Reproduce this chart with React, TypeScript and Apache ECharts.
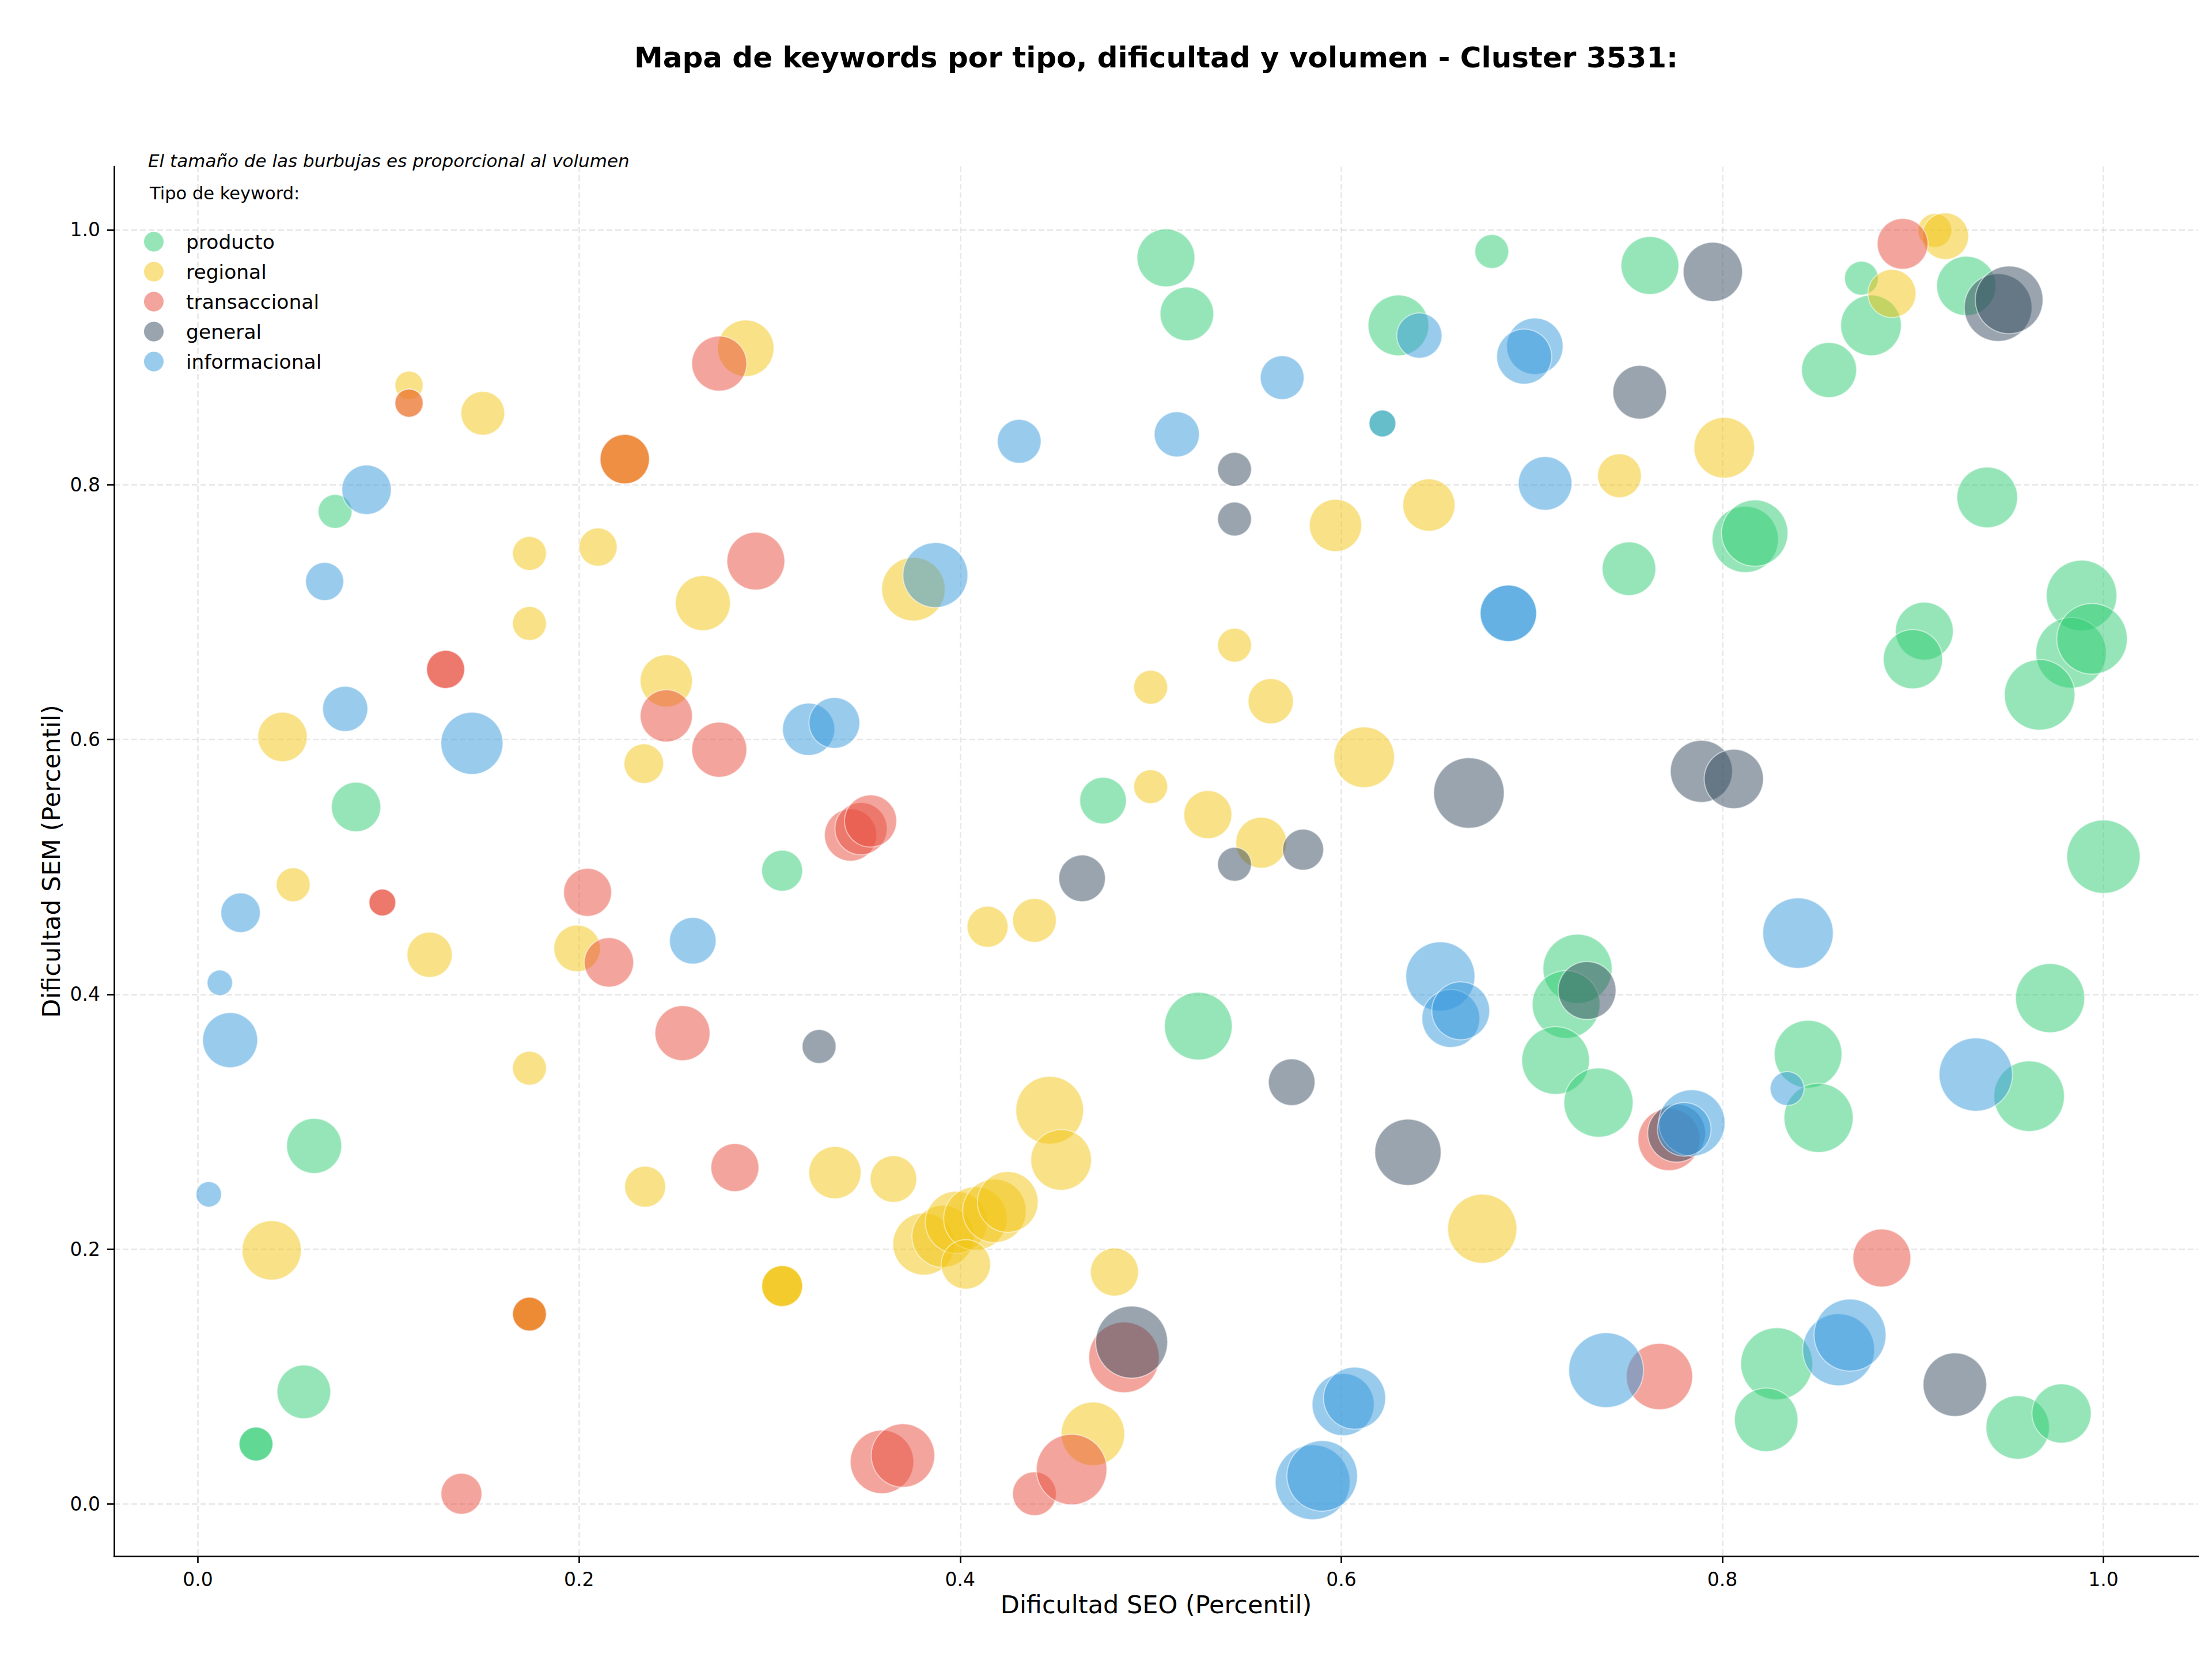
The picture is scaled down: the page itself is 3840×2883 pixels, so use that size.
import React, { useEffect, useRef } from "react";
import * as echarts from "echarts";

// [Dificultad SEO (percentil), Dificultad SEM (percentil), volumen]
const producto: number[][] = [
  [0.508, 0.978, 1681], [0.519, 0.934, 1444], [0.679, 0.983, 576], [0.762, 0.972, 1681],
  [0.630, 0.925, 1849], [0.873, 0.962, 576], [0.878, 0.925, 1849], [0.928, 0.956, 1764],
  [0.856, 0.890, 1521], [0.812, 0.757, 2209], [0.817, 0.762, 2209], [0.751, 0.734, 1444],
  [0.939, 0.790, 1849], [0.072, 0.779, 576], [0.9885, 0.713, 2500], [0.906, 0.685, 1681],
  [0.900, 0.663, 1764], [0.983, 0.668, 2500], [0.994, 0.679, 2500], [0.9665, 0.635, 2500],
  [0.083, 0.547, 1225], [0.475, 0.552, 1089], [0.3066, 0.497, 841], [1.0, 0.508, 2704],
  [0.724, 0.420, 2401], [0.718, 0.392, 2304], [0.7125, 0.348, 2304], [0.735, 0.315, 2401],
  [0.525, 0.375, 2304], [0.845, 0.353, 2304], [0.8505, 0.303, 2401], [0.972, 0.397, 2401],
  [0.961, 0.320, 2500], [0.061, 0.281, 1521], [0.0556, 0.088, 1444], [0.0305, 0.047, 576],
  [0.0305, 0.047, 576], [0.8285, 0.110, 2601], [0.823, 0.066, 2025], [0.955, 0.060, 2025],
  [0.978, 0.071, 1764], [0.6216, 0.848, 361],
];

const regional: number[][] = [
  [0.1108, 0.878, 400], [0.1108, 0.864, 400], [0.1495, 0.856, 961], [0.2875, 0.907, 1600],
  [0.224, 0.820, 1225], [0.224, 0.820, 1225], [0.174, 0.746, 576], [0.210, 0.751, 729],
  [0.174, 0.691, 576], [0.265, 0.707, 1521], [0.3755, 0.718, 2025], [0.0444, 0.602, 1225],
  [0.2458, 0.646, 1369], [0.234, 0.581, 784], [0.050, 0.486, 576], [0.1216, 0.431, 1024],
  [0.199, 0.436, 1089], [0.174, 0.342, 576], [0.2347, 0.249, 841], [0.0387, 0.199, 1764],
  [0.3343, 0.260, 1369], [0.365, 0.255, 1089], [0.3066, 0.171, 841], [0.3066, 0.171, 841],
  [0.3066, 0.171, 841], [0.174, 0.149, 576], [0.174, 0.149, 576], [0.174, 0.149, 576],
  [0.381, 0.204, 1936], [0.391, 0.210, 1936], [0.398, 0.221, 1936], [0.408, 0.224, 2025],
  [0.418, 0.230, 2025], [0.425, 0.237, 1849], [0.403, 0.188, 1225], [0.447, 0.309, 2304],
  [0.453, 0.270, 1849], [0.4144, 0.453, 841], [0.439, 0.458, 961], [0.481, 0.182, 1156],
  [0.4697, 0.055, 2025], [0.500, 0.641, 576], [0.500, 0.563, 576], [0.530, 0.541, 1156],
  [0.544, 0.674, 576], [0.563, 0.630, 1024], [0.558, 0.519, 1296], [0.597, 0.768, 1369],
  [0.612, 0.586, 1849], [0.646, 0.784, 1369], [0.674, 0.216, 2401], [0.746, 0.807, 961],
  [0.801, 0.829, 1849], [0.889, 0.950, 1156], [0.9115, 0.9995, 576], [0.917, 0.995, 1089],
];

const transaccional: number[][] = [
  [0.1108, 0.864, 400], [0.224, 0.820, 1225], [0.174, 0.149, 576], [0.130, 0.655, 729],
  [0.130, 0.655, 729], [0.0968, 0.472, 361], [0.0968, 0.472, 361], [0.2736, 0.895, 1521],
  [0.2928, 0.740, 1681], [0.2458, 0.6185, 1369], [0.2736, 0.592, 1521], [0.2045, 0.480, 1156],
  [0.2157, 0.425, 1225], [0.2543, 0.3695, 1521], [0.2818, 0.264, 1156], [0.3425, 0.525, 1369],
  [0.348, 0.530, 1369], [0.353, 0.536, 1369], [0.1383, 0.008, 841], [0.359, 0.033, 2025],
  [0.370, 0.038, 2025], [0.439, 0.008, 961], [0.4585, 0.027, 2500], [0.486, 0.115, 2500],
  [0.772, 0.286, 1936], [0.767, 0.100, 2209], [0.8837, 0.193, 1681], [0.8946, 0.989, 1296],
];

const general: number[][] = [
  [0.544, 0.812, 576], [0.544, 0.773, 576], [0.580, 0.5135, 841], [0.544, 0.502, 576],
  [0.464, 0.491, 1089], [0.326, 0.359, 576], [0.574, 0.331, 1089], [0.667, 0.558, 2500],
  [0.635, 0.276, 2209], [0.729, 0.403, 1681], [0.7566, 0.8725, 1444], [0.795, 0.967, 1764],
  [0.789, 0.575, 1936], [0.806, 0.569, 1764], [0.490, 0.127, 2601], [0.922, 0.0936, 2025],
  [0.9447, 0.939, 2304], [0.9505, 0.945, 2304], [0.776, 0.291, 1681],
];

const informacional: number[][] = [
  [0.0885, 0.796, 1225], [0.0665, 0.724, 729], [0.0773, 0.624, 1024], [0.1438, 0.597, 1936],
  [0.0224, 0.464, 784], [0.0115, 0.409, 324], [0.0169, 0.364, 1521], [0.0057, 0.243, 324],
  [0.3205, 0.608, 1369], [0.334, 0.613, 1296], [0.2597, 0.442, 1089], [0.387, 0.729, 2116],
  [0.431, 0.834, 961], [0.5137, 0.8395, 1024], [0.569, 0.884, 961], [0.6216, 0.848, 361],
  [0.641, 0.917, 1024], [0.7016, 0.9086, 1600], [0.696, 0.9005, 1521], [0.707, 0.801, 1444],
  [0.6877, 0.699, 1600], [0.6877, 0.699, 1600], [0.652, 0.414, 2401], [0.6575, 0.381, 1681],
  [0.6627, 0.387, 1681], [0.8397, 0.448, 2500], [0.834, 0.326, 576], [0.784, 0.299, 2209],
  [0.780, 0.294, 1444], [0.933, 0.337, 2704], [0.739, 0.105, 2809], [0.861, 0.121, 2601],
  [0.867, 0.1325, 2601], [0.585, 0.017, 2809], [0.590, 0.022, 2500], [0.601, 0.078, 1936],
  [0.607, 0.083, 1936],
];

const categories = ["producto", "regional", "transaccional", "general", "informacional"];
const categoryData = [producto, regional, transaccional, general, informacional];
const categoryColors = ["#2ecc71", "#f1c40f", "#e74c3c", "#34495e", "#3498db"];

const tickValues = [0, 0.2, 0.4, 0.6, 0.8, 1.0];

const TITLE = "Mapa de keywords por tipo, dificultad y volumen - Cluster 3531:";
const NOTE = "El tamaño de las burbujas es proporcional al volumen";
const LEGEND_TITLE = "Tipo de keyword:";
const X_NAME = "Dificultad SEO (Percentil)";
const Y_NAME = "Dificultad SEM (Percentil)";

const FONT = "DejaVu Sans";

export default function App() {
  const ref = useRef<HTMLDivElement>(null);

  useEffect(() => {
    if (!ref.current) return;
    const chart = echarts.init(ref.current, undefined, { renderer: "svg" });

    const axisCommon = {
      type: "value",
      axisLine: { show: true, onZero: false, lineStyle: { color: "#000", width: 2.6 } },
      axisTick: {
        show: true,
        inside: false,
        length: 12,
        lineStyle: { color: "#000", width: 2.6 },
        customValues: tickValues,
      },
      axisLabel: {
        show: true,
        margin: 24,
        color: "#000",
        fontSize: 33,
        fontFamily: FONT,
        customValues: tickValues,
        formatter: (v: number) => v.toFixed(1),
      },
      splitLine: {
        show: true,
        lineStyle: { color: "#b0b0b0", opacity: 0.3, width: 2.6, type: [10, 5] },
      },
      nameLocation: "middle",
      nameTextStyle: { fontSize: 43, fontFamily: FONT, color: "#000" },
    };

    const series = categories.map((name, i) => ({
      name,
      type: "scatter",
      data: categoryData[i],
      symbol: "circle",
      symbolSize: (d: number[]) => Math.sqrt(d[2]) * 2.449,
      itemStyle: {
        color: categoryColors[i],
        opacity: 0.5,
        borderColor: "#ffffff",
        borderWidth: 2,
      },
      emphasis: { disabled: true },
    }));

    chart.setOption({
      animation: false,
      textStyle: { fontFamily: FONT },
      grid: { left: 198, right: 24, top: 289, bottom: 182, containLabel: false, outerBoundsMode: "none" },
      xAxis: {
        ...axisCommon,
        min: -0.044,
        max: 1.0497,
        name: X_NAME,
        nameGap: 62,
      },
      yAxis: {
        ...axisCommon,
        min: -0.041,
        max: 1.0497,
        name: Y_NAME,
        nameGap: 85,
      },
      legend: {
        show: true,
        orient: "vertical",
        left: 245,
        top: 397,
        itemWidth: 34,
        itemHeight: 34,
        itemGap: 17,
        icon: "circle",
        selectedMode: false,
        textStyle: {
          fontSize: 34.5,
          color: "#000",
          fontFamily: FONT,
          lineHeight: 34,
          padding: [0, 0, 0, 34],
        },
        data: categories.map((name, i) => ({
          name,
          itemStyle: { color: categoryColors[i], opacity: 0.5, borderWidth: 0 },
        })),
      },
      graphic: [
        {
          type: "text",
          x: 2007,
          y: 100,
          style: {
            text: TITLE,
            fontSize: 50,
            fontWeight: "bold",
            fontFamily: FONT,
            fill: "#000",
            align: "center",
            verticalAlign: "middle",
          },
        },
        {
          type: "text",
          x: 257,
          y: 279,
          style: {
            text: NOTE,
            fontSize: 31,
            fontStyle: "italic",
            fontFamily: FONT,
            fill: "#000",
            align: "left",
            verticalAlign: "middle",
          },
        },
        {
          type: "text",
          x: 260,
          y: 335,
          style: {
            text: LEGEND_TITLE,
            fontSize: 30.5,
            fontFamily: FONT,
            fill: "#000",
            align: "left",
            verticalAlign: "middle",
          },
        },
      ],
      series,
    });

    return () => chart.dispose();
  }, []);

  return (
    <div
      ref={ref}
      style={{ position: "absolute", left: 0, top: 0, width: 3840, height: 2883, background: "#fff" }}
    />
  );
}
